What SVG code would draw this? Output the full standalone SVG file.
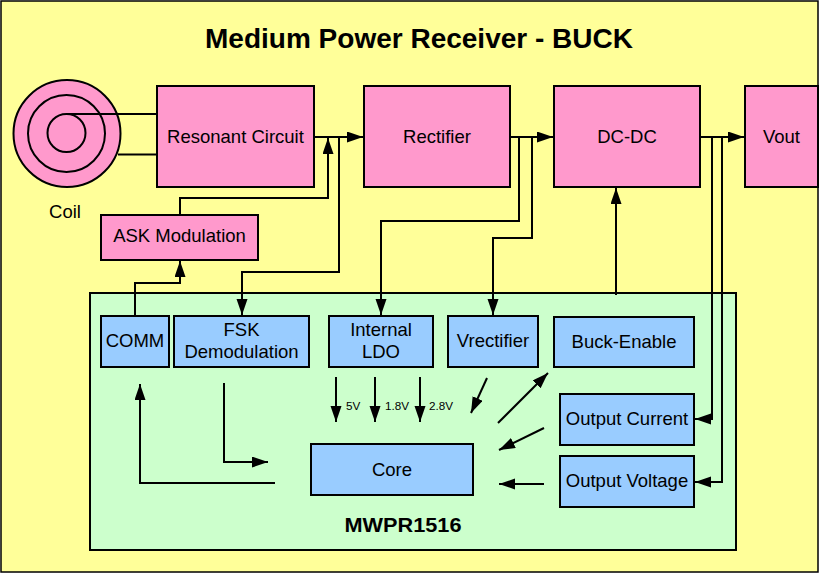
<svg xmlns="http://www.w3.org/2000/svg" width="819" height="573" viewBox="0 0 819 573">
  <style>
    .frame { fill: #FFFF99; stroke: #000; stroke-width: 1.5; }
    .pink { fill: #FF99CC; stroke: #000; stroke-width: 2; }
    .blue { fill: #99CCFF; stroke: #000; stroke-width: 2; }
    .chip { fill: #CCFFCC; stroke: #000; stroke-width: 2; }
    .wire { fill: none; stroke: #000; stroke-width: 2; }
    .arr { fill: none; stroke: #000; stroke-width: 2; marker-end: url(#head); }
    text { font-family: "Liberation Sans", Arial, sans-serif; fill: #000; text-anchor: middle; }
    .lbl { font-size: 18.5px; }
    .small { font-size: 11.7px; text-anchor: start; }
    .title { font-size: 27px; font-weight: bold; }
    .chipname { font-size: 20px; font-weight: bold; }
  </style>
  <defs>
    <marker id="head" markerUnits="userSpaceOnUse" markerWidth="17" markerHeight="12" refX="16" refY="5.5" orient="auto">
      <path d="M0,0 L16,5.5 L0,11 z" fill="#000"/>
    </marker>
  </defs>

  <!-- background frame -->
  <rect class="frame" x="1" y="1" width="817" height="571"/>
  <text class="title" x="419" y="48" textLength="428" lengthAdjust="spacingAndGlyphs">Medium Power Receiver - BUCK</text>

  <!-- MWPR1516 chip outline -->
  <g id="mwpr1516">
    <rect class="chip" x="90" y="293" width="646" height="257"/>
    <text class="chipname" x="403" y="532" textLength="117" lengthAdjust="spacingAndGlyphs">MWPR1516</text>
  </g>

  <!-- receiver coil -->
  <g id="coil">
    <circle cx="67" cy="133.5" r="53.5" fill="#FF99CC" stroke="#000" stroke-width="2"/>
    <circle cx="66.5" cy="133.5" r="38.5" fill="none" stroke="#000" stroke-width="2"/>
    <circle cx="66.5" cy="133" r="19" fill="none" stroke="#000" stroke-width="2"/>
    <text class="lbl" x="65" y="218">Coil</text>
  </g>

  <g id="resonant-circuit">
    <rect class="pink" x="157" y="86" width="157" height="101"/>
    <text class="lbl" x="235.5" y="143">Resonant Circuit</text>
  </g>
  <g id="rectifier">
    <rect class="pink" x="364" y="86" width="146" height="101"/>
    <text class="lbl" x="437" y="143">Rectifier</text>
  </g>
  <g id="dc-dc">
    <rect class="pink" x="554" y="86" width="146" height="101"/>
    <text class="lbl" x="627" y="143">DC-DC</text>
  </g>
  <g id="vout">
    <rect class="pink" x="745" y="86" width="73" height="101"/>
    <text class="lbl" x="781.5" y="143">Vout</text>
  </g>
  <g id="ask-modulation">
    <rect class="pink" x="101" y="215" width="157" height="45"/>
    <text class="lbl" x="179.5" y="242">ASK Modulation</text>
  </g>

  <g id="comm">
    <rect class="blue" x="101" y="316" width="68" height="51"/>
    <text class="lbl" x="135" y="347">COMM</text>
  </g>
  <g id="fsk-demodulation">
    <rect class="blue" x="174" y="316" width="135" height="51"/>
    <text class="lbl" x="241.5" y="336">FSK</text>
    <text class="lbl" x="241.5" y="358">Demodulation</text>
  </g>
  <g id="internal-ldo">
    <rect class="blue" x="329" y="316" width="104" height="51"/>
    <text class="lbl" x="381" y="336">Internal</text>
    <text class="lbl" x="381" y="358">LDO</text>
  </g>
  <g id="vrectifier">
    <rect class="blue" x="448" y="316" width="90" height="51"/>
    <text class="lbl" x="493" y="347">Vrectifier</text>
  </g>
  <g id="buck-enable">
    <rect class="blue" x="554" y="317" width="140" height="50"/>
    <text class="lbl" x="624" y="348">Buck-Enable</text>
  </g>
  <g id="output-current">
    <rect class="blue" x="560" y="394" width="134" height="51"/>
    <text class="lbl" x="627" y="425">Output Current</text>
  </g>
  <g id="output-voltage">
    <rect class="blue" x="560" y="456" width="134" height="51"/>
    <text class="lbl" x="627" y="487">Output Voltage</text>
  </g>
  <g id="core">
    <rect class="blue" x="311" y="444" width="162" height="51"/>
    <text class="lbl" x="392" y="476">Core</text>
  </g>

  <!-- connectors -->
  <g id="connectors">
    <path class="wire" d="M66,114 H157"/>
    <path class="wire" d="M118,154.5 H157"/>
    <path class="arr" d="M314,137 H363"/>
    <path class="arr" d="M180,215 V198 H328 V138"/>
    <path class="arr" d="M339,137 V272 H242 V315"/>
    <path class="arr" d="M135,316 V283 H180 V261"/>
    <path class="arr" d="M510,137 H553"/>
    <path class="arr" d="M519,137 V221 H381 V315"/>
    <path class="arr" d="M532,137 V238 H493 V315"/>
    <path class="arr" d="M700,137 H744"/>
    <path class="arr" d="M712,137 V419 H695"/>
    <path class="arr" d="M722,137 V482 H695"/>
    <path class="arr" d="M616,295 V188"/>
    <path class="arr" d="M336,377 V422"/>
    <path class="arr" d="M375,377 V422"/>
    <path class="arr" d="M420,377 V422"/>
    <path class="arr" d="M487,378 L471,413"/>
    <path class="arr" d="M498,423 L548,373"/>
    <path class="arr" d="M544,428 L499,450"/>
    <path class="arr" d="M544,484 H499"/>
    <path class="arr" d="M224,383 V462 H268"/>
    <path class="arr" d="M275,483 H140 V384"/>
    <text class="small" x="346" y="410">5V</text>
    <text class="small" x="385" y="410">1.8V</text>
    <text class="small" x="429" y="410">2.8V</text>
  </g>
</svg>
